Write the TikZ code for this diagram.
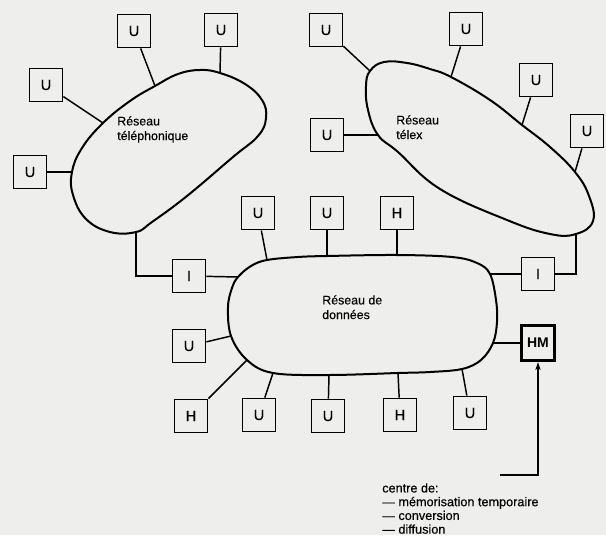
\documentclass[tikz,border=0pt]{standalone}
\usepackage{fontspec}
\setmainfont{Liberation Sans}
\newfontfamily\medfont[FakeBold=0.35]{Liberation Sans}
\usetikzlibrary{arrows.meta}
\definecolor{paper}{RGB}{238,238,236}
\tikzset{
  term/.style={draw, line width=1.1pt, minimum width=25pt, minimum height=25pt, inner sep=0pt, font=\medfont\fontsize{11}{13}\selectfont},
  hmbox/.style={draw, line width=2.2pt, minimum width=25pt, minimum height=26.5pt, inner sep=0pt, font=\bfseries\fontsize{10.5}{12}\selectfont},
  blob/.style={line width=1.5pt},
  link/.style={line width=1.1pt},
  lbl/.style={anchor=north west, align=left, inner sep=0pt, font=\medfont\fontsize{9.3}{11}\selectfont},
  legend/.style={anchor=north west, align=left, inner sep=0pt, font=\medfont\fontsize{9.5}{10.3}\selectfont}
}
\begin{document}
\begin{tikzpicture}[x=0.75pt, y=-0.75pt]
\fill[paper] (0,0) rectangle (606,535);
\useasboundingbox (0,0) rectangle (606,535);

% ---------- Telephone network ----------
\coordinate (tA1) at (155,86);
\coordinate (tA2) at (220,73);
\coordinate (tA3) at (103,123);
\coordinate (tA4) at (72,172);
\coordinate (tAI) at (136,232);
\draw[blob] plot[smooth cycle, tension=0.7] coordinates {
  (200,70) (tA2) (245,84) (262,100) (266,118) (258,136) (233,157) (187,196) (152,222) (tAI)
  (110,232) (86,219) (73,195) (tA4) (82,148) (tA3) (130,101) (tA1) (178,74)};
\node[lbl] (tlabel) at (117,116) {Réseau\\téléphonique};

\node[term] (tu1) at (134,31) {U};
\node[term] (tu2) at (221,30) {U};
\node[term] (tu3) at (46,85) {U};
\node[term] (tu4) at (30,172) {U};
\draw[link] (tu1) -- (tA1);
\draw[link] (tu2) -- (tA2);
\draw[link] (tu3) -- (tA3);
\draw[link] (tu4) -- (tA4);

% ---------- Telex network ----------
\coordinate (xA1) at (370,71);
\coordinate (xA2) at (451,77);
\coordinate (xA3) at (522,125);
\coordinate (xA4) at (575,172);
\coordinate (xA5) at (378,135);
\coordinate (xAI) at (576,234);
\draw[blob] plot[smooth cycle, tension=0.7] coordinates {
  (xA1) (384,62) (407,63) (430,69) (xA2) (490,100) (xA3) (550,147) (xA4) (589,196) (593,221)
  (xAI) (550,234) (507,220) (440,189) (398,152) (xA5) (368,110) (366,86)};
\node[lbl] (xlabel) at (396,115) {Réseau\\télex};

\node[term] (xu1) at (326,30) {U};
\node[term] (xu2) at (466,29) {U};
\node[term] (xu3) at (536,80) {U};
\node[term] (xu4) at (587,131) {U};
\node[term] (xu5) at (327,135) {U};
\draw[link] (xu1) -- (xA1);
\draw[link] (xu2) -- (xA2);
\draw[link] (xu3) -- (xA3);
\draw[link] (xu4) -- (xA4);
\draw[link] (xu5) -- (xA5);

% ---------- Data network ----------
\coordinate (dT1) at (267,260);
\coordinate (dT2) at (327,256);
\coordinate (dT3) at (397,255);
\coordinate (dIR) at (490,274);
\coordinate (dHM) at (493,343);
\coordinate (dB5) at (462,369);
\coordinate (dB4) at (398,373);
\coordinate (dB3) at (329,375);
\coordinate (dB2) at (273,373);
\coordinate (dB1) at (247,360);
\coordinate (dL) at (231,336);
\coordinate (dIL) at (238,277);
\draw[blob] plot[smooth cycle, tension=0.6] coordinates {
  (dT1) (298,257) (dT2) (dT3) (452,257) (477,263) (dIR) (496,300) (497,322) (dHM) (481,360)
  (dB5) (430,372) (dB4) (dB3) (dB2) (dB1) (dL) (228,307) (232,288) (dIL) (251,266)};
\node[lbl] (dlabel) at (322,295) {Réseau de\\données};

\node[term] (dt1) at (258,213) {U};
\node[term] (dt2) at (327,213) {U};
\node[term] (dt3) at (397,213) {H};
\node[term] (dil) at (189,276) {I};
\node[term] (dir) at (538,274) {I};
\node[term] (dl)  at (189,346) {U};
\node[term] (db1) at (191,416) {H};
\node[term] (db2) at (259,415) {U};
\node[term] (db3) at (328,416) {U};
\node[term] (db4) at (400,415) {H};
\node[term] (db5) at (470,413) {U};
\node[hmbox] (hm) at (538,343) {HM};

\draw[link] (dt1) -- (dT1);
\draw[link] (dt2) -- (dT2);
\draw[link] (dt3) -- (dT3);
\draw[link] (dil) -- (dIL);
\draw[link] (dir) -- (dIR);
\draw[link] (dl) -- (dL);
\draw[link] (db1) -- (dB1);
\draw[link] (db2) -- (dB2);
\draw[link] (db3) -- (dB3);
\draw[link] (db4) -- (dB4);
\draw[link] (db5) -- (dB5);
\draw[link] (hm) -- (dHM);

% gateways
\draw[link] (tAI) |- (dil);
\draw[link] (xAI) |- (dir);

% ---------- legend ----------
\coordinate (arrowstart) at (500,475);
\draw[line width=0.8pt, -{Stealth[length=6pt, width=4pt]}] (arrowstart) -| (hm);
\node[legend] (legend) at (382,483) {centre de:\\— mémorisation temporaire\\— conversion\\— diffusion};
\end{tikzpicture}
\end{document}
